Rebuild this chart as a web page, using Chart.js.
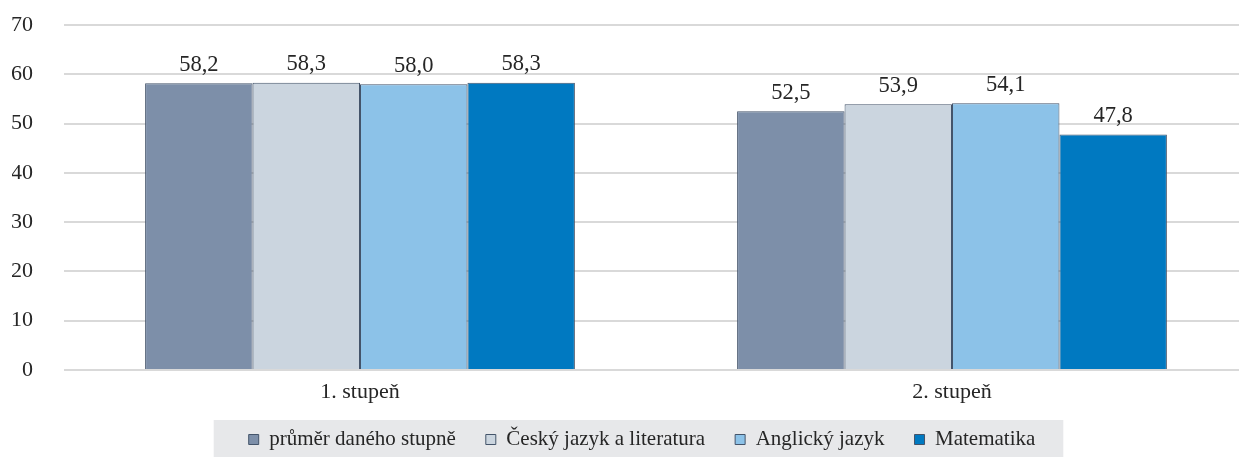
<!DOCTYPE html>
<html>
<head>
<meta charset="utf-8">
<title>Stupně</title>
<script src="https://cdn.jsdelivr.net/npm/chart.js"></script>
<style>
    html, body { margin: 0; padding: 0; background: #fff; overflow: hidden; }
    #wrap { width: 1248px; height: 457px; }
</style>
</head>
<body>
<div id="wrap"><canvas id="chart"></canvas></div>
<script>
const categories = ['1. stupeň', '2. stupeň'];
const seriesNames = ['průměr daného stupně', 'Český jazyk a literatura', 'Anglický jazyk', 'Matematika'];
const prumer = [58.2, 52.5];
const cestina = [58.3, 53.9];
const anglictina = [58.0, 54.1];
const matematika = [58.3, 47.8];
const yTicks = [0, 10, 20, 30, 40, 50, 60, 70];

const colors = ['#7d8fa9', '#cbd5df', '#8cc2e8', '#0079c1'];
const values = [prumer, cestina, anglictina, matematika];

const font = "'Liberation Serif', 'Times New Roman', serif";

// popisky hodnot nad sloupci
const valueLabels = {
    id: 'valueLabels',
    afterDatasetsDraw(chart) {
        const ctx = chart.ctx;
        ctx.save();
        ctx.font = '22.5px ' + font;
        ctx.fillStyle = '#262626';
        ctx.textAlign = 'center';
        ctx.textBaseline = 'bottom';
        chart.data.datasets.forEach((ds, i) => {
            chart.getDatasetMeta(i).data.forEach((bar, j) => {
                ctx.fillText(ds.data[j].toFixed(1).replace('.', ','), bar.x, bar.y - 7);
            });
        });
        ctx.restore();
    }
};

// posun legendy + šedé pozadí
const legendBox = {
    id: 'legendBox',
    afterLayout(chart) {
        const lg = chart.legend;
        const dy = 399 - lg.top;
        lg.top += dy; lg.bottom += dy;
        lg.left += 12; lg.right += 12;
    },
    beforeDraw(chart) {
        const lg = chart.legend;
        if (!lg || !lg.legendHitBoxes.length) return;
        const boxes = lg.legendHitBoxes;
        const first = boxes[0], last = boxes[boxes.length - 1];
        const ctx = chart.ctx;
        ctx.save();
        ctx.fillStyle = '#e7e8ea';
        ctx.fillRect(first.left - 35, 420, last.left + last.width - first.left + 63, 40);
        ctx.restore();
    }
};

new Chart(document.getElementById('chart'), {
    type: 'bar',
    data: {
        labels: categories,
        datasets: seriesNames.map((name, i) => ({
            label: name,
            data: values[i],
            backgroundColor: colors[i],
            borderColor: '#44546a',
            borderWidth: 1,
            categoryPercentage: 0.726,
            barPercentage: 1
        }))
    },
    options: {
        responsive: true,
        maintainAspectRatio: false,
        animation: false,
        layout: { padding: { top: 25, left: 12, right: 0, bottom: -9 } },
        plugins: {
            tooltip: { enabled: false },
            legend: {
                position: 'bottom',
                labels: {
                    font: { family: font, size: 21 },
                    color: '#262626',
                    boxWidth: 10,
                    boxHeight: 10,
                    padding: 30
                }
            }
        },
        scales: {
            x: {
                grid: { display: false, drawTicks: false },
                border: { display: false },
                ticks: { font: { family: font, size: 22 }, color: '#262626', padding: 9 },
                afterFit(scale) { scale.height = 35; }
            },
            y: {
                min: 0,
                max: 70,
                afterBuildTicks(axis) { axis.ticks = yTicks.map(v => ({ value: v })); },
                afterFit(scale) {
                    scale.width = 52;
                    scale.paddingTop = 0;
                },
                grid: { color: '#d9d9d9', lineWidth: 2, drawTicks: false },
                border: { display: false },
                ticks: { font: { family: font, size: 22 }, color: '#262626', padding: 31 }
            }
        }
    },
    plugins: [valueLabels, legendBox]
});
</script>
</body>
</html>
